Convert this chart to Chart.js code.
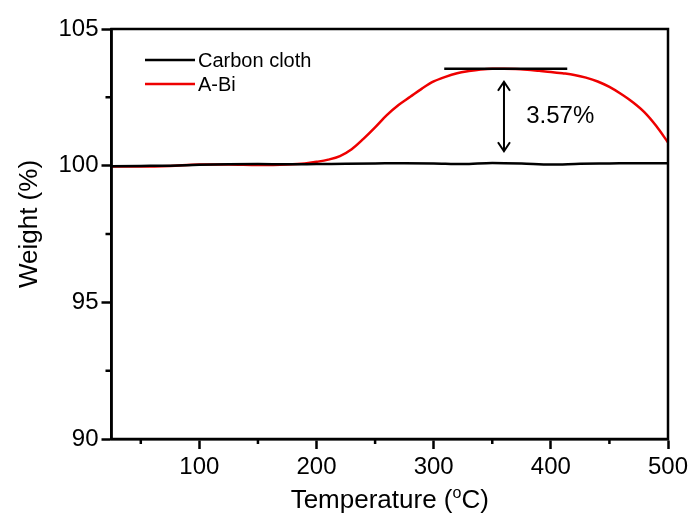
<!DOCTYPE html>
<html>
<head>
<meta charset="utf-8">
<script src="https://cdn.jsdelivr.net/npm/chart.js@4.4.1/dist/chart.umd.min.js"></script>
<style>
  html, body { margin: 0; padding: 0; background: #fff; }
</style>
</head>
<body>
<canvas id="tgaChart" width="696" height="519"></canvas>
<script>
// Carbon cloth (black)
const tempCarbon   = [25, 50, 75, 100, 125, 150, 175, 200, 225, 250, 275, 300, 325, 350, 375, 400, 425, 450, 475, 500];
const weightCarbon = [99.98, 99.99, 100.0, 100.03, 100.05, 100.06, 100.05, 100.06, 100.07, 100.08, 100.09, 100.08, 100.06, 100.1, 100.08, 100.04, 100.07, 100.08, 100.09, 100.09];

// A-Bi (red)
const tempABi   = [25, 50, 75, 100, 125, 150, 175, 190, 200, 210, 220, 230, 240, 250, 260, 270, 280, 290, 300, 310, 320, 330, 340, 350, 360, 370, 380, 390, 400, 410, 420, 430, 440, 450, 460, 470, 480, 490, 500];
const weightABi = [99.97, 99.97, 99.99, 100.04, 100.04, 100.02, 100.04, 100.08, 100.14, 100.22, 100.35, 100.6, 100.98, 101.4, 101.85, 102.22, 102.52, 102.82, 103.08, 103.25, 103.38, 103.46, 103.52, 103.55, 103.55, 103.54, 103.51, 103.47, 103.43, 103.38, 103.32, 103.22, 103.08, 102.88, 102.62, 102.32, 101.95, 101.45, 100.85];

const seriesLabels = ['Carbon cloth', 'A-Bi'];
const seriesColors = ['#000000', '#ee0000'];

const xMajorTicks = [100, 200, 300, 400, 500];
const xMinorTicks = [50, 150, 250, 350, 450];
const yMinorTicks = [92.5, 97.5, 102.5];

// annotation: plateau line, double arrow and gain label
const peakLine  = { from: 309, to: 414, y: 103.55 };
const gainArrow = { x: 360, top: 103.07, bottom: 100.53 };
const gainLabel = { text: '3.57%', x: 379, y: 101.8 };

const FONT = '"Liberation Sans", Arial, Helvetica, sans-serif';

function toPoints(xs, ys) {
    return xs.map((v, i) => ({ x: v, y: ys[i] }));
}

const decor = {
    id: 'decor',
    afterDraw(chart) {
        const { ctx, chartArea: a, scales: { x, y } } = chart;
        ctx.save();
        ctx.strokeStyle = '#000';
        ctx.lineWidth = 2.5;
        ctx.strokeRect(a.left, a.top, a.right - a.left, a.bottom - a.top);

        // minor ticks
        ctx.beginPath();
        xMinorTicks.forEach(v => {
            const px = x.getPixelForValue(v);
            ctx.moveTo(px, a.bottom); ctx.lineTo(px, a.bottom + 5);
        });
        yMinorTicks.forEach(v => {
            const py = y.getPixelForValue(v);
            ctx.moveTo(a.left, py); ctx.lineTo(a.left - 6, py);
        });
        ctx.stroke();

        // legend
        ctx.lineWidth = 2.5;
        ctx.font = '20px ' + FONT;
        ctx.textBaseline = 'middle';
        ctx.textAlign = 'left';
        chart.data.datasets.forEach((ds, i) => {
            const ly = 60 + i * 24;
            ctx.strokeStyle = ds.borderColor;
            ctx.beginPath(); ctx.moveTo(145, ly); ctx.lineTo(195, ly); ctx.stroke();
            ctx.fillStyle = '#000';
            ctx.fillText(ds.label, 198, ly + 1);
        });

        // plateau line
        ctx.strokeStyle = '#000';
        ctx.lineWidth = 2.5;
        const pyPeak = y.getPixelForValue(peakLine.y);
        ctx.beginPath();
        ctx.moveTo(x.getPixelForValue(peakLine.from), pyPeak);
        ctx.lineTo(x.getPixelForValue(peakLine.to), pyPeak);
        ctx.stroke();

        // double arrow
        const ax = x.getPixelForValue(gainArrow.x);
        const at = y.getPixelForValue(gainArrow.top);
        const ab = y.getPixelForValue(gainArrow.bottom);
        ctx.lineWidth = 2;
        ctx.beginPath();
        ctx.moveTo(ax, at); ctx.lineTo(ax, ab);
        ctx.moveTo(ax - 6, at + 9); ctx.lineTo(ax, at); ctx.lineTo(ax + 6, at + 9);
        ctx.moveTo(ax - 6, ab - 9); ctx.lineTo(ax, ab); ctx.lineTo(ax + 6, ab - 9);
        ctx.stroke();

        // gain label
        ctx.fillStyle = '#000';
        ctx.font = '24px ' + FONT;
        ctx.textAlign = 'left';
        ctx.textBaseline = 'middle';
        ctx.fillText(gainLabel.text, x.getPixelForValue(gainLabel.x), y.getPixelForValue(gainLabel.y));

        // x axis title with superscript o
        const cx = (a.left + a.right) / 2;
        const base = 508;
        ctx.textBaseline = 'alphabetic';
        ctx.font = '26px ' + FONT;
        const p1 = 'Temperature (', p3 = 'C)';
        const w1 = ctx.measureText(p1).width, w3 = ctx.measureText(p3).width;
        ctx.font = '16px ' + FONT;
        const w2 = ctx.measureText('o').width;
        let sx = cx - (w1 + w2 + w3) / 2;
        ctx.font = '26px ' + FONT;
        ctx.fillText(p1, sx, base);
        ctx.font = '16px ' + FONT;
        ctx.fillText('o', sx + w1, base - 10);
        ctx.font = '26px ' + FONT;
        ctx.fillText(p3, sx + w1 + w2, base);

        // y axis title
        ctx.save();
        ctx.translate(30, 224);
        ctx.rotate(-Math.PI / 2);
        ctx.textAlign = 'center';
        ctx.textBaseline = 'middle';
        ctx.fillText('Weight (%)', 0, 0);
        ctx.restore();

        ctx.restore();
    }
};

new Chart(document.getElementById('tgaChart'), {
    type: 'line',
    data: {
        datasets: [
            { label: seriesLabels[0], data: toPoints(tempCarbon, weightCarbon), borderColor: seriesColors[0], borderWidth: 2.5, pointRadius: 0, cubicInterpolationMode: 'monotone' },
            { label: seriesLabels[1], data: toPoints(tempABi, weightABi), borderColor: seriesColors[1], borderWidth: 2.5, pointRadius: 0, cubicInterpolationMode: 'monotone' }
        ]
    },
    options: {
        responsive: false,
        animation: false,
        layout: { padding: { left: 0, right: 28, top: 29, bottom: 0 } },
        plugins: { legend: { display: false }, tooltip: { enabled: false } },
        scales: {
            x: {
                type: 'linear', min: 25, max: 500,
                afterBuildTicks: s => { s.ticks = xMajorTicks.map(v => ({ value: v })); },
                afterFit: s => { s.height = 80; },
                grid: { drawOnChartArea: false, tickLength: 10, tickWidth: 2.5, tickColor: '#000' },
                border: { color: '#000', width: 2.5 },
                ticks: { color: '#000', font: { family: FONT, size: 24 }, padding: 4, maxRotation: 0 }
            },
            y: {
                min: 90, max: 105,
                ticks: { stepSize: 5, color: '#000', font: { family: FONT, size: 24 }, padding: 3 },
                afterFit: s => { s.width = 111.5; },
                grid: { drawOnChartArea: false, tickLength: 10, tickWidth: 2.5, tickColor: '#000' },
                border: { color: '#000', width: 2.5 }
            }
        }
    },
    plugins: [decor]
});
</script>
</body>
</html>
